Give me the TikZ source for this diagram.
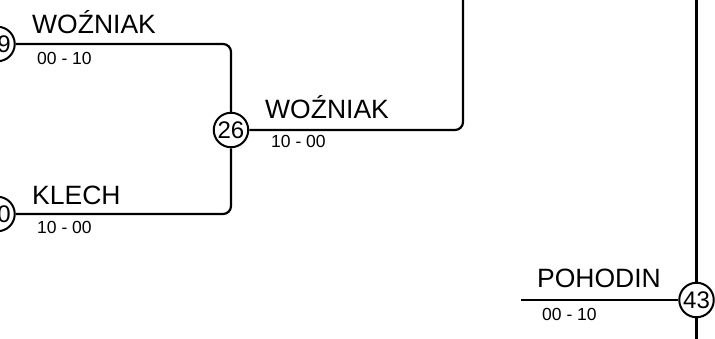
\documentclass[tikz,border=0pt]{standalone}
\usepackage{fontspec}
\setmainfont{Liberation Sans}
\begin{document}
\begin{tikzpicture}[x=1pt,y=-1pt,
  circ/.style={draw,circle,line width=2pt,minimum size=34.5pt,inner sep=0pt,fill=white,font=\fontsize{24}{24}\selectfont},
  wire/.style={line width=2.2pt,rounded corners=8pt},
  plname/.style={anchor=base west,inner sep=0pt,font=\fontsize{26.5}{26.5}\selectfont},
  plscore/.style={anchor=base west,inner sep=0pt,font=\fontsize{17.5}{17.5}\selectfont}]
\useasboundingbox (0,0) rectangle (715,338);
\begin{scope}
\clip (0,0) rectangle (715,338);
% circles
\node[circ] (c9)  at (-2.5,44)  {\phantom{1}9};
\node[circ] (c10) at (-2.5,214) {\phantom{2}0};
\node[circ] (c26) at (231,130) {26};
\node[circ] (c43) at (696.5,300) {43};
% free ends
\coordinate (t1) at (463,-10);
\coordinate (t2) at (696.5,-10);
\coordinate (b1) at (696.5,350);
\coordinate (p1) at (521,300);
% connectors
\draw[wire] (c9.east) -| (c26.north);
\draw[wire] (c10.east) -| (c26.south);
\draw[wire] (c26.east) -| (t1);
\draw[wire] (t2) -- (c43.north);
\draw[wire] (c43.south) -- (b1);
\draw[wire] (p1) -- (c43.west);
% labels
\node[plname]  (n1) at (32,33)   {WOŹNIAK};
\node[plscore] (s1) at (37,64)   {00 - 10};
\node[plname]  (n2) at (32,204)  {KLECH};
\node[plscore] (s2) at (37,233)  {10 - 00};
\node[plname]  (n3) at (265,118) {WOŹNIAK};
\node[plscore] (s3) at (271,147) {10 - 00};
\node[plname]  (n4) at (537,287) {POHODIN};
\node[plscore] (s4) at (542,320) {00 - 10};
\end{scope}
\end{tikzpicture}
\end{document}
